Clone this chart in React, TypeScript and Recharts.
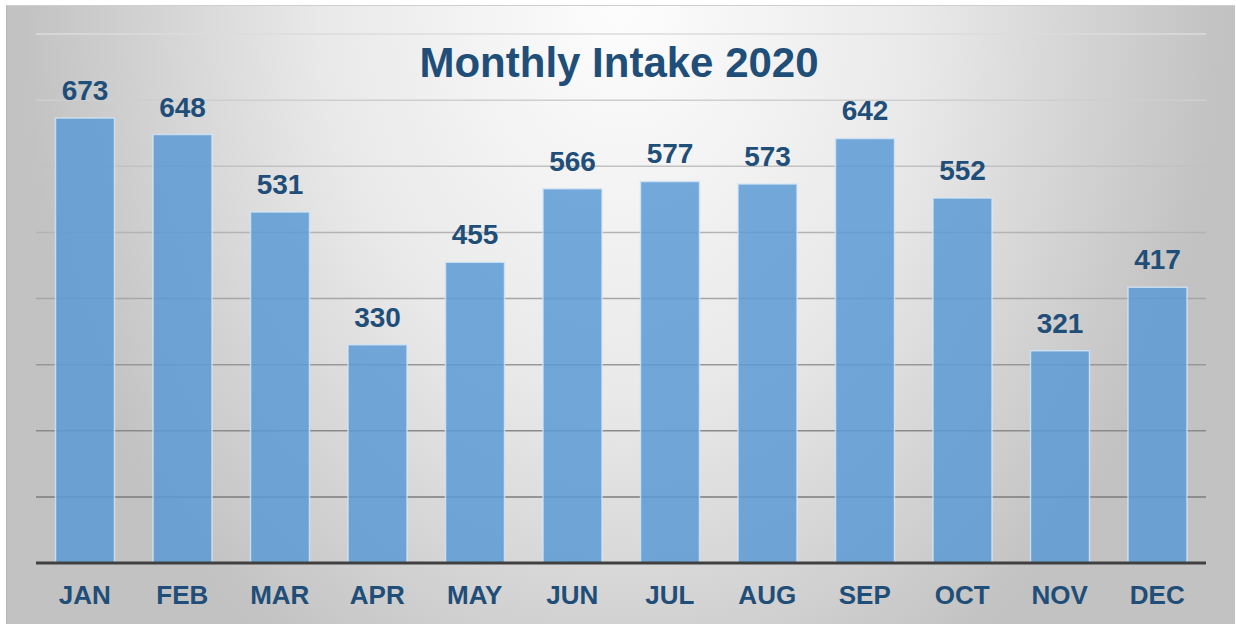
import React from 'react';
import { BarChart, Bar, XAxis, YAxis, CartesianGrid, LabelList } from 'recharts';

// chart values
const months = ['JAN', 'FEB', 'MAR', 'APR', 'MAY', 'JUN', 'JUL', 'AUG', 'SEP', 'OCT', 'NOV', 'DEC'];
const intake = [673, 648, 531, 330, 455, 566, 577, 573, 642, 552, 321, 417];
const yTicks = [0, 100, 200, 300, 400, 500, 600, 700, 800];

const data = months.map((month, i) => ({ month, intake: intake[i] }));

const DARK_BLUE = '#1F4E79';
const FONT = '"Liberation Sans", Arial, sans-serif';

const MonthTick = (props: any) => {
  const { x, y, payload } = props;
  return (
    <text
      x={x}
      y={y + 41}
      textAnchor="middle"
      fill={DARK_BLUE}
      fontSize={26}
      fontWeight="bold"
      fontFamily={FONT}
    >
      {payload.value}
    </text>
  );
};

const ValueLabel = (props: any) => {
  const { x, y, width, value } = props;
  return (
    <text
      x={x + width / 2}
      y={y - 18}
      textAnchor="middle"
      fill={DARK_BLUE}
      fontSize={28}
      fontWeight="bold"
      fontFamily={FONT}
    >
      {value}
    </text>
  );
};

export default function App() {
  return (
    <div style={{ position: 'absolute', left: 0, top: 0, width: 1236, height: 624, background: '#fff' }}>
      {/* chart area background with soft radial shading */}
      <div
        style={{
          position: 'absolute',
          left: 6,
          top: 5,
          width: 1229,
          height: 619,
          boxSizing: 'border-box',
          borderTop: '1px solid #cfcfcf',
          borderLeft: '1px solid #b8b8b8',
          background: 'radial-gradient(600px 780px at 614px 0px, #fdfdfd 0%, #e9e9e9 50%, #c2c2c2 100%)',
        }}
      />
      <div style={{ position: 'absolute', left: 0, top: 0 }}>
        <BarChart
          width={1236}
          height={624}
          data={data}
          margin={{ top: 34, right: 30, left: 36, bottom: 31 }}
          barCategoryGap="20%"
        >
          <defs>
            <linearGradient id="gridShade" gradientUnits="userSpaceOnUse" x1="0" y1="34" x2="0" y2="563">
              <stop offset="0%" stopColor="#dcdcdc" />
              <stop offset="50%" stopColor="#a6a6a6" />
              <stop offset="100%" stopColor="#6e6e6e" />
            </linearGradient>
          </defs>
          <CartesianGrid vertical={false} stroke="url(#gridShade)" strokeWidth={1.5} />
          <YAxis hide domain={[0, 800]} ticks={yTicks} />
          <XAxis
            dataKey="month"
            height={30}
            axisLine={{ stroke: '#404040', strokeWidth: 3 }}
            tickLine={false}
            tickSize={0}
            tickMargin={0}
            tick={<MonthTick />}
            interval={0}
          />
          <Bar
            dataKey="intake"
            fill="#5B9BD5"
            fillOpacity={0.85}
            stroke="#d6e6f5"
            strokeOpacity={0.8}
            strokeWidth={1.5}
            isAnimationActive={false}
          >
            <LabelList dataKey="intake" content={<ValueLabel />} />
          </Bar>
        </BarChart>
      </div>
      <svg width={1236} height={624} style={{ position: 'absolute', left: 0, top: 0, pointerEvents: 'none' }}>
        <text
          x={619}
          y={77}
          textAnchor="middle"
          fill={DARK_BLUE}
          fontSize={42}
          fontWeight="bold"
          fontFamily={FONT}
        >
          Monthly Intake 2020
        </text>
      </svg>
    </div>
  );
}
